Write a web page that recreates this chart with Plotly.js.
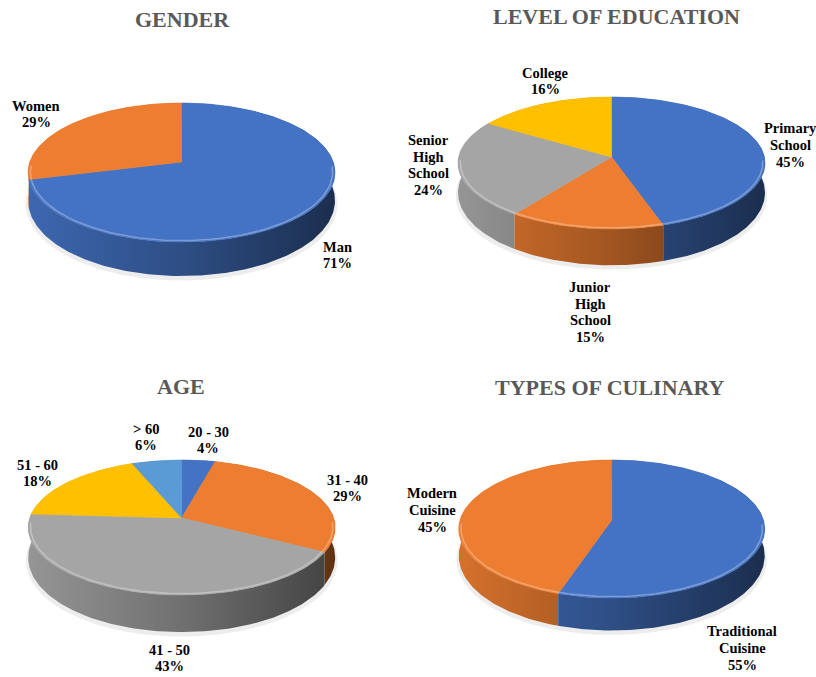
<!DOCTYPE html>
<html><head><meta charset="utf-8">
<script src="https://cdn.plot.ly/plotly-3.0.1.min.js"></script>
<style>html,body{margin:0;padding:0;background:#fff}#chart{width:816px;height:677px}</style>
</head><body><div id="chart"></div>
<script>
// ---------------- DATA ----------------
const genderCategories = ['Man', 'Women'];
const genderValues = [71, 29];
const educationCategories = ['Primary School', 'Junior High School', 'Senior High School', 'College'];
const educationValues = [45, 15, 24, 16];
const ageCategories = ['20 - 30', '31 - 40', '41 - 50', '51 - 60', '> 60'];
const ageValues = [4, 29, 43, 18, 6];
const culinaryCategories = ['Traditional Cuisine', 'Modern Cuisine'];
const culinaryValues = [55, 45];

// ---------------- LAYOUT / STYLE ----------------
const palette = ['#4472C4', '#ED7D31', '#A5A5A5', '#FFC000', '#5B9BD5'];
const panels = [
  {title: 'GENDER', cats: genderCategories, vals: genderValues,
   cx: 181.5, cy: 162, A: 59, B: 80, hw: 153.5, d0: 27, kd: 0.26,
   titleXY: [182, 19], labelXY: [[337, 255], [36, 114]]},
  {title: 'LEVEL OF EDUCATION', cats: educationCategories, vals: educationValues,
   cx: 611.5, cy: 157, A: 60, B: 72, hw: 153.5, d0: 29, kd: 0.25,
   titleXY: [616, 16], labelXY: [[790, 145], [590, 312], [428, 165], [545, 81]]},
  {title: 'AGE', cats: ageCategories, vals: ageValues,
   cx: 181.7, cy: 518, A: 58, B: 77, hw: 153.5, d0: 29, kd: 0.28,
   titleXY: [181, 386], labelXY: [[208, 440], [347, 488], [169, 658], [37, 473], [146, 437]]},
  {title: 'TYPES OF CULINARY', cats: culinaryCategories, vals: culinaryValues,
   cx: 611.7, cy: 520, A: 60, B: 78, hw: 153, d0: 26, kd: 0.25,
   titleXY: [610, 387], labelXY: [[742, 648], [432, 510]]}
];
const LINE_H = 16.7;
const serif = 'Liberation Serif, Times New Roman, serif';

function hexToRgb(h) { h = h.replace('#', ''); return [0, 2, 4].map(i => parseInt(h.substr(i, 2), 16)); }
function scaleCol(h, s) { const c = hexToRgb(h).map(v => Math.max(0, Math.min(255, Math.round(v * s)))); return `rgb(${c[0]},${c[1]},${c[2]})`; }
function lighten(h, t) { const c = hexToRgb(h).map(v => Math.round(v + (255 - v) * t)); return `rgb(${c[0]},${c[1]},${c[2]})`; }

function geom(p) {
  const k = (p.B - p.A) / (p.B + p.A);
  return {k: k, ry: p.A * (1 + k), rx: p.hw * Math.sqrt(1 - k * k)};
}
function pt(p, g, th, r, bottom) {
  const u = r * Math.sin(th), v = -r * Math.cos(th);
  const f = 1 / (1 - g.k * v);
  let y = p.cy + g.ry * v * f;
  if (bottom) y += p.d0 * (1 + p.kd * v);
  return [p.cx + g.rx * u * f, y];
}
function arc(p, g, a1, a2, r, bottom) {
  const n = Math.max(4, Math.ceil((a2 - a1) / (Math.PI / 180)));
  const xs = [], ys = [];
  for (let i = 0; i <= n; i++) {
    const q = pt(p, g, a1 + (a2 - a1) * i / n, r, bottom);
    xs.push(q[0]); ys.push(q[1]);
  }
  return [xs, ys];
}

const shadowTraces = [], sideTraces = [], topTraces = [], hiTraces = [];
const annotations = [];

panels.forEach(p => {
  const g = geom(p);
  const total = p.vals.reduce((a, b) => a + b, 0);
  // shadow
  const sh = arc(p, g, 0, 2 * Math.PI, 1.015, true);
  shadowTraces.push({x: sh[0], y: sh[1].map(y => y + 3), mode: 'lines', line: {width: 0},
    fill: 'toself', fillcolor: 'rgba(0,0,0,0.07)', hoverinfo: 'skip', showlegend: false});
  let cum = 0;
  const sides = [];
  p.vals.forEach((val, i) => {
    const a1 = 2 * Math.PI * cum / total;
    const a2 = 2 * Math.PI * (cum + val) / total;
    cum += val;
    const col = palette[i % palette.length];
    // side band
    const t = arc(p, g, a1, a2, 1, false);
    const b = arc(p, g, a1, a2, 1, true);
    const midV = -Math.cos((a1 + a2) / 2);
    sides.push({v: midV, trace: {
      x: t[0].concat(b[0].slice().reverse()), y: t[1].concat(b[1].slice().reverse()),
      mode: 'lines', line: {width: 0}, fill: 'toself', fillcolor: scaleCol(col, 0.65),
      fillgradient: {type: 'horizontal', start: p.cx - p.hw, stop: p.cx + p.hw,
        colorscale: [[0, scaleCol(col, 0.9)], [0.5, scaleCol(col, 0.68)], [1, scaleCol(col, 0.4)]]},
      hoverinfo: 'skip', showlegend: false}});
    // top face
    const tx = [p.cx].concat(t[0], [p.cx]);
    const ty = [p.cy].concat(t[1], [p.cy]);
    topTraces.push({x: tx, y: ty, mode: 'lines', line: {width: 0.6, color: col}, fill: 'toself',
      fillcolor: col, hoverinfo: 'skip', showlegend: false});
    // front rim highlight
    const hx = [], hy = [];
    const n = 120;
    for (let j = 0; j <= n; j++) {
      const th = a1 + (a2 - a1) * j / n;
      if (-Math.cos(th) > 0.05) { const q = pt(p, g, th, 0.985, false); hx.push(q[0]); hy.push(q[1]); }
      else if (hx.length && hx[hx.length - 1] !== null) { hx.push(null); hy.push(null); }
    }
    if (hx.length) hiTraces.push({x: hx, y: hy, mode: 'lines', line: {width: 1.6, color: lighten(col, 0.3)},
      hoverinfo: 'skip', showlegend: false});
    // label
    const name = p.cats[i];
    const lines = (/\d/.test(name) ? [name] : name.split(' ')).concat([Math.round(val / total * 100) + '%']);
    const L = p.labelXY[i];
    lines.forEach((ln, j) => {
      annotations.push({x: L[0], y: L[1] + (j - (lines.length - 1) / 2) * LINE_H, xref: 'x', yref: 'y',
        text: ln, showarrow: false, xanchor: 'center', yanchor: 'middle',
        font: {family: serif, size: 14.5, color: '#000', weight: 'bold'}});
    });
  });
  sides.sort((a, b) => a.v - b.v).forEach(s => sideTraces.push(s.trace));
  annotations.push({x: p.titleXY[0], y: p.titleXY[1], xref: 'x', yref: 'y', text: p.title, showarrow: false,
    xanchor: 'center', yanchor: 'middle', font: {family: serif, size: 22, color: '#595959', weight: 'bold'}});
});

const data = shadowTraces.concat(sideTraces, topTraces, hiTraces);
const layout = {
  width: 816, height: 677, margin: {l: 0, r: 0, t: 0, b: 0},
  paper_bgcolor: '#fff', plot_bgcolor: '#fff', showlegend: false,
  xaxis: {range: [0, 816], visible: false, fixedrange: true},
  yaxis: {range: [677, 0], visible: false, fixedrange: true},
  annotations: annotations
};
Plotly.newPlot('chart', data, layout, {staticPlot: true, displayModeBar: false});
</script></body></html>
